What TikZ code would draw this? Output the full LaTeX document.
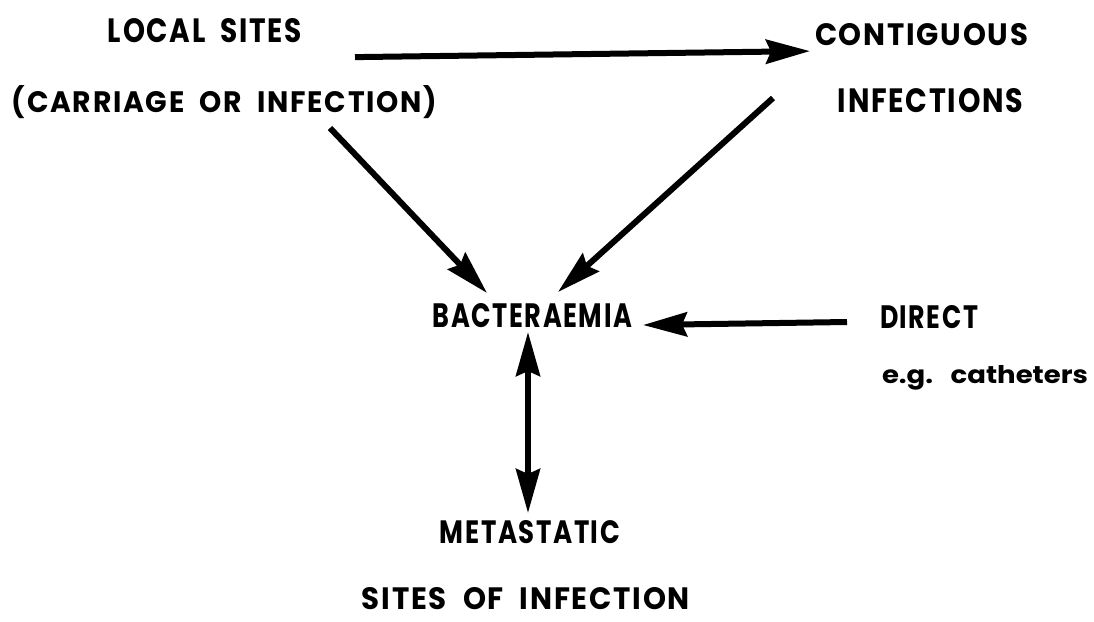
\documentclass[tikz,border=0pt]{standalone}
\usepackage{fontspec}
\setmainfont{Poppins}[LetterSpace=6]
\usetikzlibrary{arrows.meta}
\newcommand{\fitbox}[3]{\resizebox{#1pt}{#2pt}{#3}}
\newcommand{\wsp}{\hspace{0.55em}}
\begin{document}
\begin{tikzpicture}[x=1pt,y=-1pt,
  lbl/.style={inner sep=0pt,outer sep=0pt,anchor=base,font=\bfseries},
  arr/.style={line width=6pt,-{Stealth[length=44pt,width=24pt,inset=5pt]}},
  darr/.style={line width=6pt,{Stealth[length=44pt,width=24pt,inset=5pt]}-{Stealth[length=44pt,width=24pt,inset=5pt]}}]
\useasboundingbox (0,0) rectangle (1094,621);
\fill[white] (0,0) rectangle (1094,621);

\node[lbl] (local)  at (205,42)    {\fitbox{194}{24}{LOCAL\wsp SITES}};
\node[lbl] (carr)   at (224.5,112) {\fitbox{425}{27}{(CARRIAGE\wsp OR\wsp INFECTION)}};
\node[lbl] (cont)   at (921.5,45)  {\fitbox{213}{22}{CONTIGUOUS}};
\node[lbl] (inf)    at (930.5,112) {\fitbox{185}{24}{INFECTIONS}};
\node[lbl] (bact)   at (532.5,327) {\fitbox{199}{24}{BACTERAEMIA}};
\node[lbl] (direct) at (929,328)   {\fitbox{98}{23}{DIRECT}};
\node[lbl,anchor=base west] (eg) at (882,383) {\fitbox{206}{18}{\addfontfeature{LetterSpace=0}e.g.\ \ \ catheters}};
\node[lbl] (meta)   at (530,543)   {\fitbox{180}{23}{METASTATIC}};
\node[lbl] (sites)  at (526,609)   {\fitbox{328}{22}{SITES\wsp OF\wsp INFECTION}};

\draw[arr] ([shift={(53,27)}]local.east) -- ([shift={(-5,17)}]cont.west);
\draw[arr] ([shift={(105.5,16)}]carr.base) -- ([shift={(-45.5,-10)}]bact.north);
\draw[arr] ([shift={(-65,-14)}]inf.base west) -- ([shift={(25.5,-11)}]bact.north);
\draw[arr] ([shift={(-33,-6)}]direct.base west) -- ([shift={(11,-2)}]bact.base east);
\draw[darr] ([shift={(-4.5,5)}]bact.base) -- ([shift={(-2,-7)}]meta.north);
\end{tikzpicture}
\end{document}
